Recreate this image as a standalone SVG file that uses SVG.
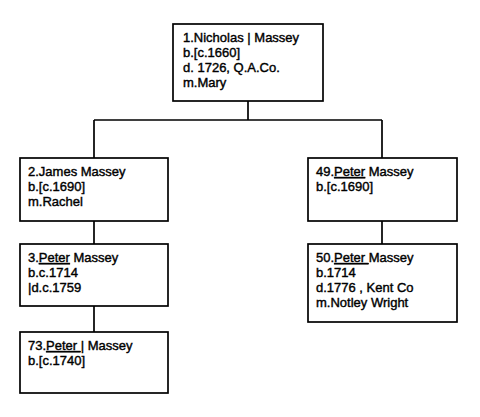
<svg xmlns="http://www.w3.org/2000/svg" width="480" height="417" viewBox="0 0 480 417">
<style>
.box{fill:#fff;stroke:#000;stroke-width:1.7}
.ln{fill:none;stroke:#000;stroke-width:1.7}
text{font-family:"Liberation Sans",Arial,sans-serif;font-size:13px;fill:#000;stroke:#000;stroke-width:0.4}
.u{text-decoration:underline}
</style>
<rect width="480" height="417" fill="#fff"/>
<g id="connectors">
<path class="ln" d="M248 101V120M94 120H382M94 120V158M382 120V158M94 221V244M382 221V244M94 306V332"/>
</g>
<g id="n1">
<rect class="box" x="173" y="24" width="150" height="77"/>
<text x="183" y="42">1.Nicholas | Massey</text>
<text x="183" y="57">b.[c.1660]</text>
<text x="183" y="72">d. 1726, Q.A.Co.</text>
<text x="183" y="87">m.Mary</text>
</g>
<g id="n2">
<rect class="box" x="20" y="158" width="148" height="63"/>
<text x="28" y="176">2.James Massey</text>
<text x="28" y="191">b.[c.1690]</text>
<text x="28" y="206">m.Rachel</text>
</g>
<g id="n3">
<rect class="box" x="20" y="244" width="148" height="62"/>
<text x="28" y="262">3.<tspan class="u">Peter</tspan> Massey</text>
<text x="28" y="277">b.c.1714</text>
<text x="28" y="292">|d.c.1759</text>
</g>
<g id="n73">
<rect class="box" x="20" y="332" width="148" height="61"/>
<text x="28" y="350">73.<tspan class="u">Peter </tspan>| Massey</text>
<text x="28" y="365">b.[c.1740]</text>
</g>
<g id="n49">
<rect class="box" x="308" y="158" width="149" height="63"/>
<text x="316" y="176">49.<tspan class="u">Peter</tspan> Massey</text>
<text x="316" y="191">b.[c.1690]</text>
</g>
<g id="n50">
<rect class="box" x="308" y="244" width="149" height="78"/>
<text x="316" y="262">50.<tspan class="u">Peter </tspan>Massey</text>
<text x="316" y="277">b.1714</text>
<text x="316" y="292">d.1776 , Kent Co</text>
<text x="316" y="307">m.Notley Wright</text>
</g>
</svg>
